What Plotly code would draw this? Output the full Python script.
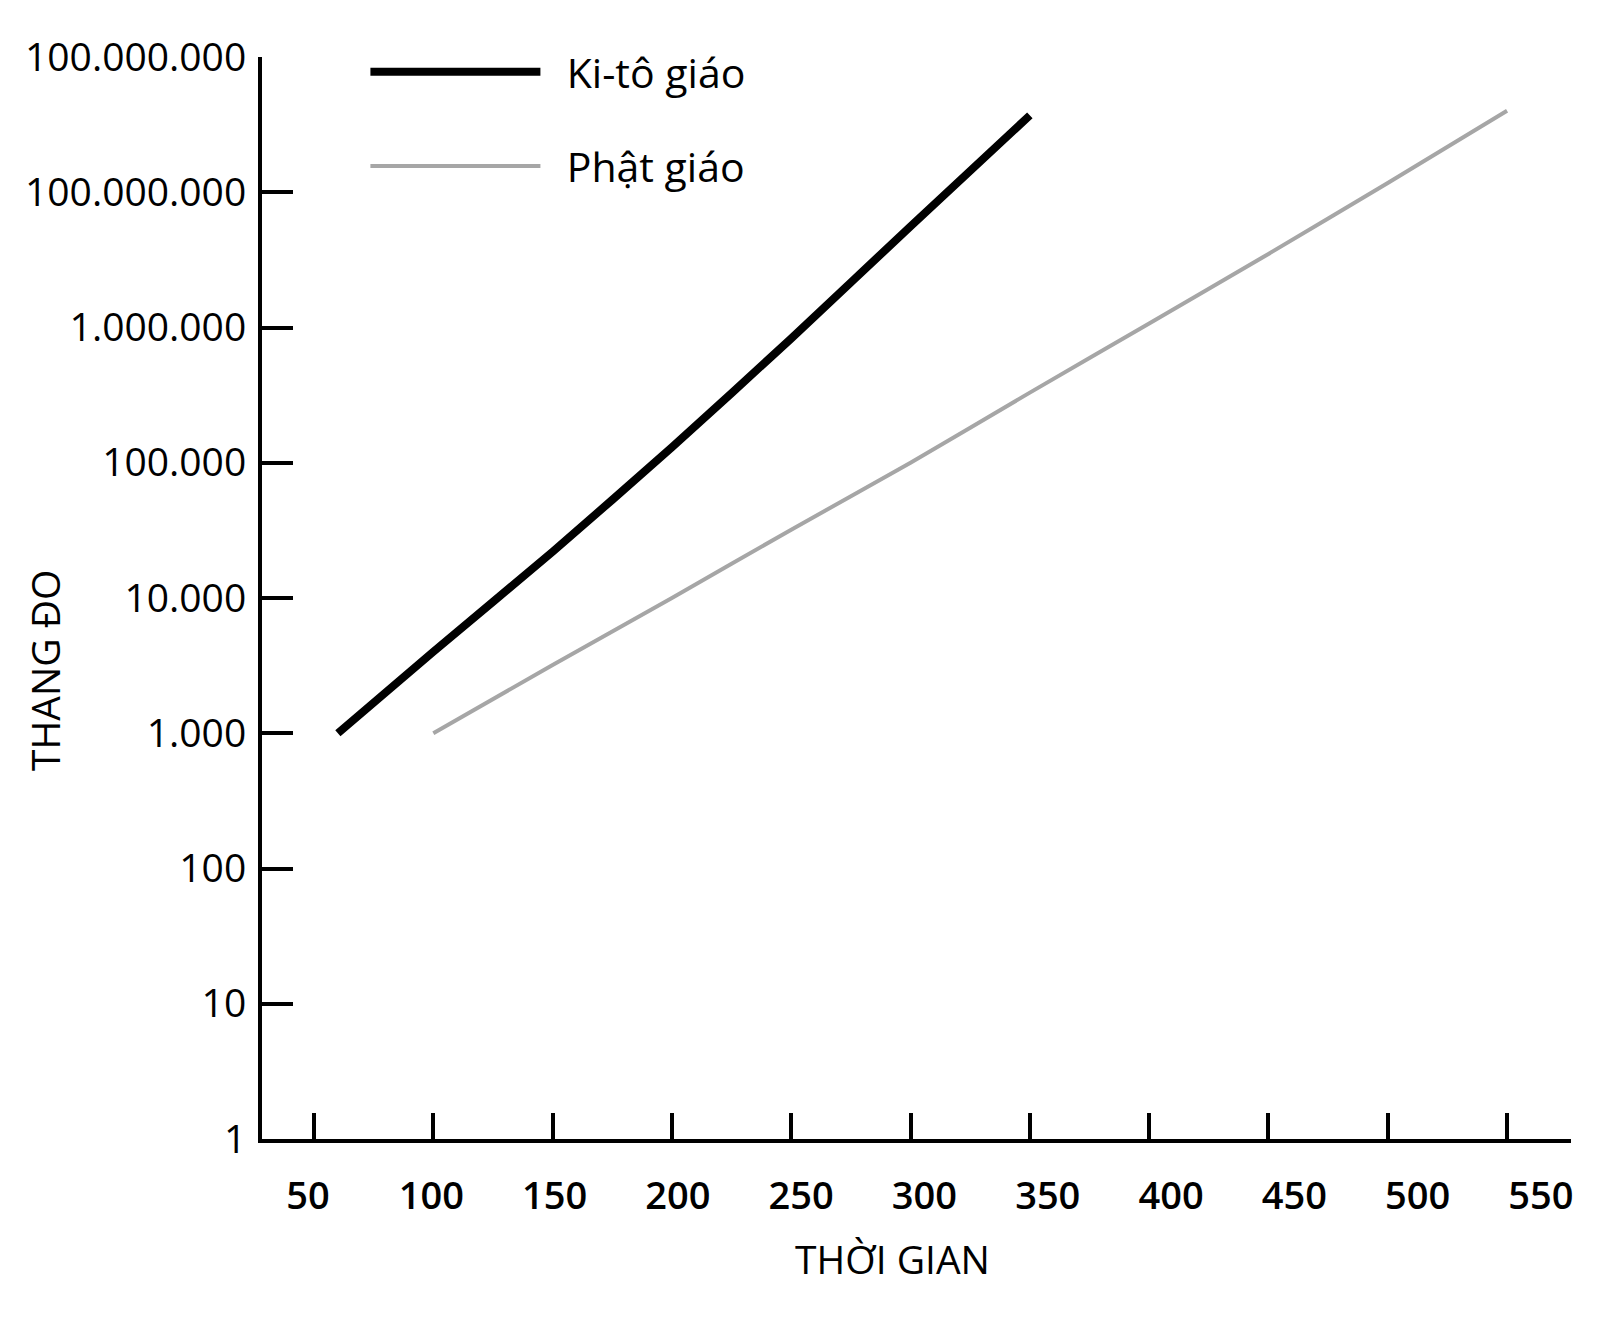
import plotly.graph_objects as go

# Ki-tô giáo (thick black) and Phật giáo (grey) growth curves
kito_years = [60, 100, 150, 200, 250, 300, 350]
kito_values = [1000, 4000, 22000, 130000, 830000, 5600000, 37000000]

phat_years = [100, 150, 200, 250, 300, 350, 400, 450, 500, 550]
phat_values = [1000, 3200, 10000, 32000, 100000, 330000, 1070000, 3500000, 11700000, 40000000]

x_ticks = [50, 100, 150, 200, 250, 300, 350, 400, 450, 500, 550]
y_ticks = [1, 10, 100, 1000, 10000, 100000, 1000000, 10000000, 100000000]
# the source prints "100.000.000" twice (at 10^7 and 10^8)
y_tick_text = ["1", "10", "100", "1.000", "10.000", "100.000", "1.000.000",
               "100.000.000", "100.000.000"]

FONT = "Open Sans, Noto Sans, sans-serif"
GAP = "\u00a0\u00a0"  # wider gap between legend line and its label

fig = go.Figure()

fig.add_trace(go.Scatter(
    x=kito_years, y=kito_values,
    mode='lines', name=GAP + 'Ki-tô giáo',
    line=dict(color='black', width=8, shape='spline', smoothing=0.6),
    legendgroup='kito'
))

fig.add_trace(go.Scatter(
    x=phat_years, y=phat_values,
    mode='lines', name=GAP + 'Phật giáo',
    line=dict(color='#a6a6a6', width=4, shape='spline', smoothing=0.6),
    legendgroup='phat'
))

# empty trace so the label-only axis is drawn
fig.add_trace(go.Scatter(x=[], y=[], xaxis='x2', showlegend=False))

fig.update_layout(
    width=1600,
    height=1324,
    margin=dict(l=254, r=37, t=49, b=193),
    paper_bgcolor='white',
    plot_bgcolor='white',
    font=dict(family=FONT, size=39, color='black'),
    showlegend=True,
    legend=dict(
        x=0.079, y=1.017, xanchor='left', yanchor='top',
        bgcolor='rgba(0,0,0,0)',
        font=dict(family=FONT, size=41, color='black'),
        itemwidth=170,
        tracegroupgap=38,
    ),
    xaxis=dict(
        range=[28.2, 576.8],
        tickvals=x_ticks,
        showticklabels=False,
        ticks='inside', ticklen=26, tickwidth=4, tickcolor='black',
        showline=True, linewidth=4, linecolor='black',
        showgrid=False, zeroline=False,
    ),
    # tick labels in the source sit progressively right of their ticks
    xaxis2=dict(
        overlaying='x', anchor='y', side='bottom',
        range=[31.35, 562.2],
        tickvals=x_ticks,
        ticktext=[str(v) for v in x_ticks],
        tickfont=dict(family=FONT, size=38, weight=600, color='black'),
        ticks='', showline=False, showgrid=False, zeroline=False,
        ticklabelstandoff=31,
    ),
    yaxis=dict(
        type='log',
        range=[0, 8],
        tickvals=y_ticks,
        ticktext=y_tick_text,
        tickfont=dict(family=FONT, size=39, color='black'),
        ticks='inside', ticklen=31, tickwidth=4, tickcolor='black',
        ticklabelstandoff=4,
        showline=True, linewidth=4, linecolor='black',
        showgrid=False, zeroline=False,
    ),
    annotations=[
        dict(text='THANG ĐO', xref='paper', yref='paper',
             x=-0.1658, y=0.4335, xanchor='center', yanchor='middle',
             textangle=-90, showarrow=False,
             font=dict(family=FONT, size=39, color='black')),
        dict(text='THỜI GIAN', xref='paper', yref='paper',
             x=0.4815, y=-0.11, xanchor='center', yanchor='middle',
             showarrow=False,
             font=dict(family=FONT, size=39, color='black')),
    ],
)

fig.write_html("out.html")
